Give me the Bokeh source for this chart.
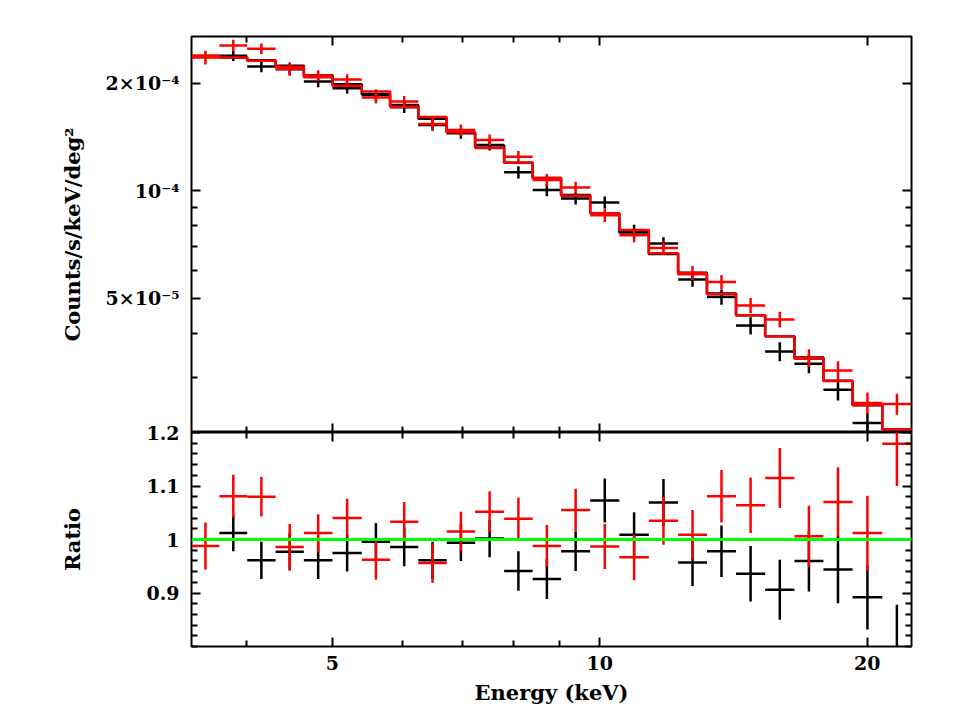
import numpy as np
from bokeh.plotting import figure
from bokeh.layouts import column
from bokeh.models import (LogAxis, LinearAxis, FixedTicker, CustomJSTickFormatter,
                          Range1d, Span)
from bokeh.embed import file_html
from bokeh.resources import INLINE

# ---------------- data ----------------
energy_edges = [3.470, 3.730, 4.009, 4.315, 4.643, 5.001, 5.395, 5.806, 6.247, 6.724,
                7.237, 7.803, 8.402, 9.044, 9.753, 10.519, 11.354, 12.249, 13.200,
                14.233, 15.350, 16.559, 17.851, 19.253, 20.794, 22.430]

# red data group (all 25 bins)
red_flux = [2.359e-4, 2.549e-4, 2.495e-4, 2.193e-4, 2.101e-4, 2.047e-4, 1.823e-4,
            1.776e-4, 1.538e-4, 1.479e-4, 1.387e-4, 1.245e-4, 1.072e-4, 1.022e-4,
            8.55e-5, 7.51e-5, 6.92e-5, 5.89e-5, 5.56e-5, 4.78e-5, 4.37e-5, 3.41e-5,
            3.145e-5, 2.553e-5, 2.536e-5]
red_model = [2.388e-4, 2.358e-4, 2.310e-4, 2.224e-4, 2.076e-4, 1.968e-4, 1.895e-4,
             1.719e-4, 1.609e-4, 1.457e-4, 1.318e-4, 1.198e-4, 1.085e-4, 9.69e-5,
             8.66e-5, 7.77e-5, 6.69e-5, 5.84e-5, 5.14e-5, 4.49e-5, 3.92e-5, 3.39e-5,
             2.94e-5, 2.52e-5, 2.15e-5]
red_ratio = [0.988, 1.081, 1.080, 0.986, 1.012, 1.040, 0.962, 1.033, 0.956, 1.015,
             1.052, 1.039, 0.988, 1.055, 0.987, 0.967, 1.035, 1.009, 1.081, 1.064,
             1.115, 1.006, 1.070, 1.012, 1.179]
red_ratio_err = [0.044, 0.040, 0.037, 0.043, 0.035, 0.036, 0.037, 0.037, 0.037, 0.037,
                 0.038, 0.039, 0.039, 0.040, 0.042, 0.043, 0.045, 0.046, 0.049, 0.052,
                 0.056, 0.057, 0.065, 0.070, 0.079]

# black data group (bins 2..25)
black_flux = [2.385e-4, 2.226e-4, 2.186e-4, 2.021e-4, 1.936e-4, 1.854e-4, 1.713e-4,
              1.528e-4, 1.448e-4, 1.343e-4, 1.126e-4, 1.005e-4, 9.52e-5, 9.28e-5,
              7.72e-5, 7.12e-5, 5.65e-5, 5.05e-5, 4.20e-5, 3.555e-5, 3.284e-5,
              2.780e-5, 2.243e-5, 1.68e-5]
black_model = [2.357e-4, 2.316e-4, 2.237e-4, 2.103e-4, 1.986e-4, 1.861e-4, 1.737e-4,
               1.590e-4, 1.457e-4, 1.340e-4, 1.197e-4, 1.085e-4, 9.73e-5, 8.65e-5,
               7.65e-5, 6.66e-5, 5.90e-5, 5.16e-5, 4.49e-5, 3.92e-5, 3.42e-5,
               2.945e-5, 2.515e-5, 2.15e-5]
black_ratio = [1.012, 0.961, 0.977, 0.961, 0.975, 0.996, 0.986, 0.961, 0.994, 1.002,
               0.941, 0.926, 0.978, 1.073, 1.009, 1.069, 0.957, 0.978, 0.936, 0.906,
               0.960, 0.944, 0.892, 0.780]
black_ratio_err = [0.034, 0.035, 0.035, 0.035, 0.035, 0.035, 0.036, 0.035, 0.034, 0.035,
                   0.037, 0.037, 0.037, 0.041, 0.042, 0.044, 0.044, 0.048, 0.052, 0.056,
                   0.057, 0.063, 0.060, 0.098]

x_ticks = [5, 10, 20]
x_minor = [4, 6, 7, 8, 9]
flux_ticks = [5e-5, 1e-4, 2e-4]
flux_minor = [3e-5, 4e-5, 6e-5, 7e-5, 8e-5, 9e-5]
ratio_ticks = [0.9, 1.0, 1.1, 1.2]
ratio_minor = [0.8, 0.82, 0.84, 0.86, 0.88, 0.92, 0.94, 0.96, 0.98,
               1.02, 1.04, 1.06, 1.08, 1.12, 1.14, 1.16, 1.18]

# ---------------- styling ----------------
FONT = "DejaVu Serif"
TICK_FS = "19px"
LABEL_FS = "21px"
LW = 2.5

empty_fmt = CustomJSTickFormatter(code="return '';")
x_fmt = CustomJSTickFormatter(code="return tick.toFixed(0);")
flux_fmt = CustomJSTickFormatter(code="""
if (Math.abs(tick - 5e-5) < 1e-10) return '5\u00d710\u207b\u2075';
if (Math.abs(tick - 1e-4) < 1e-10) return '10\u207b\u2074';
if (Math.abs(tick - 2e-4) < 1e-10) return '2\u00d710\u207b\u2074';
return '';
""")
ratio_fmt = CustomJSTickFormatter(code="""
if (Math.abs(tick - 1) < 1e-9) return '1';
return tick.toFixed(1);
""")


def style_axis(ax, show_labels, fmt):
    ax.axis_line_color = None
    ax.major_tick_in = 9
    ax.major_tick_out = 0
    ax.minor_tick_in = 6
    ax.minor_tick_out = 0
    ax.major_tick_line_width = 2
    ax.minor_tick_line_width = 2
    ax.major_tick_line_color = "black"
    ax.minor_tick_line_color = "black"
    ax.formatter = fmt
    ax.major_label_text_font = FONT
    ax.major_label_text_font_style = "bold"
    ax.major_label_text_font_size = TICK_FS
    ax.major_label_text_color = "black"
    ax.axis_label_text_font = FONT
    ax.axis_label_text_font_style = "bold"
    ax.axis_label_text_font_size = LABEL_FS
    ax.axis_label_text_color = "black"
    if not show_labels:
        ax.major_label_standoff = 0


def base_fig(height, y_type, y_range, mb_top, mb_bottom):
    p = figure(width=944, height=height, x_axis_type="log", y_axis_type=y_type,
               x_range=Range1d(3.47, 22.43), y_range=y_range,
               output_backend="svg", toolbar_location=None,
               min_border_left=191, min_border_right=33,
               min_border_top=mb_top, min_border_bottom=mb_bottom)
    p.xgrid.visible = False
    p.ygrid.visible = False
    p.outline_line_color = "black"
    p.outline_line_width = 2
    p.background_fill_color = "white"
    return p


def add_crosses(p, edges, vals, errs, color):
    lo = np.array(edges[:-1])
    hi = np.array(edges[1:])
    c = np.sqrt(lo * hi)
    v = np.array(vals)
    e = np.array(errs)
    p.segment(lo, v, hi, v, line_color=color, line_width=LW)
    p.segment(c, v - e, c, v + e, line_color=color, line_width=LW)


def add_step(p, edges, model, color):
    xs, ys = [], []
    for i, m in enumerate(model):
        xs += [edges[i], edges[i + 1]]
        ys += [m, m]
    p.line(xs, ys, line_color=color, line_width=LW)


# ---------------- top panel ----------------
top = base_fig(432, "log", Range1d(2.11e-5, 2.70e-4), 36, 0)
style_axis(top.xaxis[0], False, empty_fmt)
top.xaxis[0].ticker = FixedTicker(ticks=x_ticks, minor_ticks=x_minor)
style_axis(top.yaxis[0], True, flux_fmt)
top.yaxis[0].ticker = FixedTicker(ticks=flux_ticks, minor_ticks=flux_minor)
top.yaxis[0].major_label_standoff = 12
top.yaxis[0].axis_label = "Counts/s/keV/deg\u00b2"
top.yaxis[0].axis_label_standoff = 18

ax_r = LogAxis(ticker=FixedTicker(ticks=flux_ticks, minor_ticks=flux_minor))
style_axis(ax_r, False, empty_fmt)
top.add_layout(ax_r, "right")
ax_t = LogAxis(ticker=FixedTicker(ticks=x_ticks, minor_ticks=x_minor))
style_axis(ax_t, False, empty_fmt)
top.add_layout(ax_t, "above")

black_edges = energy_edges[1:]
black_flux_err = np.array(black_flux) * np.array(black_ratio_err) / np.array(black_ratio)
red_flux_err = np.array(red_flux) * np.array(red_ratio_err) / np.array(red_ratio)

add_crosses(top, black_edges, black_flux, black_flux_err, "black")
add_step(top, black_edges, black_model, "black")
add_crosses(top, energy_edges, red_flux, red_flux_err, "#ff0000")
add_step(top, energy_edges, red_model, "#ff0000")

# ---------------- bottom panel ----------------
bot = base_fig(289, "linear", Range1d(0.8, 1.2), 14, 60)
bot.margin = (-14, 0, 0, 0)
bot.border_fill_alpha = 0
style_axis(bot.xaxis[0], True, x_fmt)
bot.xaxis[0].ticker = FixedTicker(ticks=x_ticks, minor_ticks=x_minor)
bot.xaxis[0].major_label_standoff = 9
bot.xaxis[0].axis_label = "Energy (keV)"
bot.xaxis[0].axis_label_standoff = 7
style_axis(bot.yaxis[0], True, ratio_fmt)
bot.yaxis[0].ticker = FixedTicker(ticks=ratio_ticks, minor_ticks=ratio_minor)
bot.yaxis[0].major_label_standoff = 12
bot.yaxis[0].axis_label = "Ratio"
bot.yaxis[0].axis_label_standoff = 58

bx_r = LinearAxis(ticker=FixedTicker(ticks=ratio_ticks, minor_ticks=ratio_minor))
style_axis(bx_r, False, empty_fmt)
bot.add_layout(bx_r, "right")
bx_t = LogAxis(ticker=FixedTicker(ticks=x_ticks, minor_ticks=x_minor))
style_axis(bx_t, False, empty_fmt)
bot.add_layout(bx_t, "above")

add_crosses(bot, black_edges, black_ratio, black_ratio_err, "black")
add_crosses(bot, energy_edges, red_ratio, red_ratio_err, "#ff0000")
bot.add_layout(Span(location=1.0, dimension="width", line_color="#00ff00", line_width=3))

layout = column(top, bot, spacing=0)

with open("out.html", "w", encoding="utf-8") as f:
    f.write(file_html(layout, INLINE))
